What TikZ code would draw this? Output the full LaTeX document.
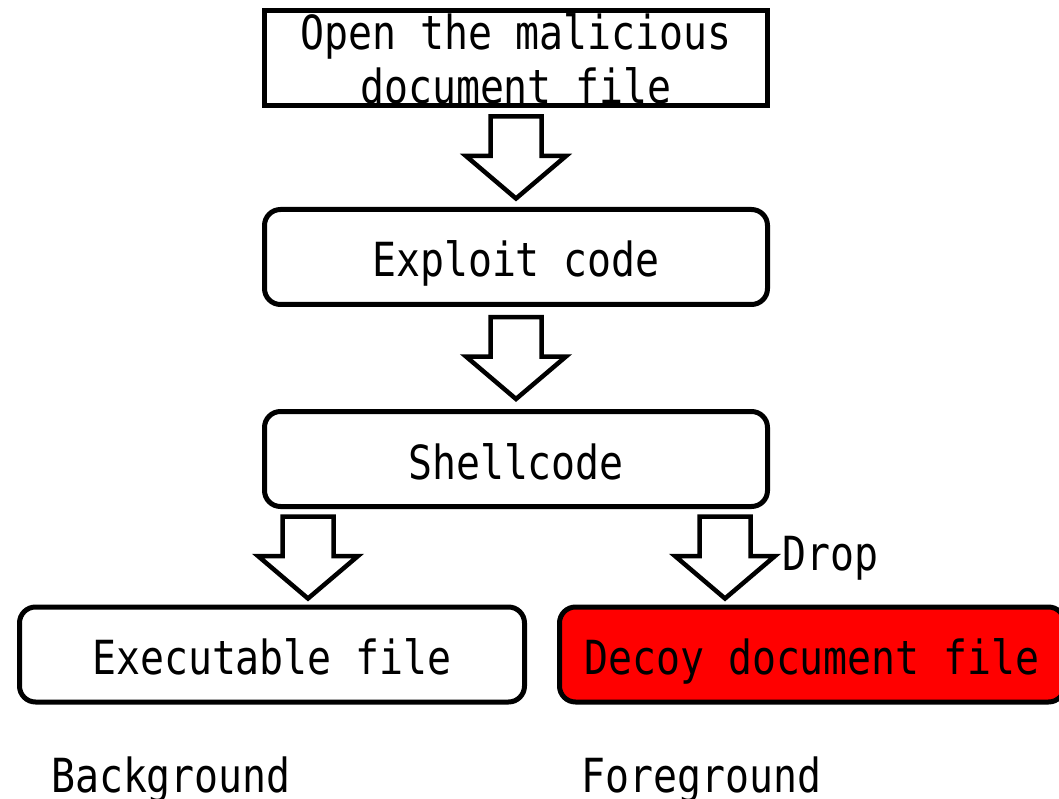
\documentclass[tikz,border=0pt]{standalone}
\usepackage{fontspec}
\usetikzlibrary{calc}
\newfontfamily\monofam[FakeStretch=0.848]{DejaVu Sans Mono}
\newcommand\diafont{\monofam\fontsize{47pt}{54pt}\selectfont}
\tikzset{
  box/.style={draw=black, line width=5pt, minimum width=503pt, minimum height=95pt,
    inner sep=0pt, text height=40pt, text depth=0pt, font=\diafont, fill=white},
  rbox/.style={box, rounded corners=16pt},
  lbl/.style={inner sep=0pt, text height=34pt, text depth=0pt, font=\diafont},
  arrowline/.style={draw=black, line width=4.5pt, fill=white, line join=miter},
  hollowarrow/.pic={\draw[arrowline] (-25.5,-41) -- (25.5,-41) -- (25.5,-1.5) -- (50,-1.5)
     -- (0,41) -- (-50,-1.5) -- (-25.5,-1.5) -- cycle;}
}
\begin{document}
\begin{tikzpicture}[x=1pt,y=-1pt]
\path[use as bounding box] (0,0) rectangle (1059,799);
\clip (0,0) rectangle (1059,799);
% boxes
\node[box] (open) at (516,58) {};
\node[font=\diafont, anchor=base, inner sep=0pt] (opent1) at (516,50) {Open the malicious};
\node[font=\diafont, anchor=base, inner sep=0pt] (opent2) at (516,104) {document file};
\node[rbox] (exploit) at (516,257) {Exploit code};
\node[rbox] (shell) at (516,459) {Shellcode};
\node[rbox, minimum width=505pt] (exe) at (272,654.5) {Executable file};
\node[rbox, minimum width=505pt, fill=red] (decoy) at (812,654.5) {Decoy document file};
% arrows
\coordinate (a1) at ($(open.south)!0.5!(exploit.north)$);
\coordinate (a2) at ($(exploit.south)!0.5!(shell.north)$);
\coordinate (a3) at (308,557.5);
\coordinate (a4) at (725,557.5);
\pic at (a1) {hollowarrow};
\pic at (a2) {hollowarrow};
\pic at (a3) {hollowarrow};
\pic at (a4) {hollowarrow};
% labels
\node[lbl] (drop) at (830,553) {Drop};
\node[lbl] (bg) at (171,775) {Background};
\node[lbl] (fg) at (701.5,775) {Foreground};
\end{tikzpicture}
\end{document}
